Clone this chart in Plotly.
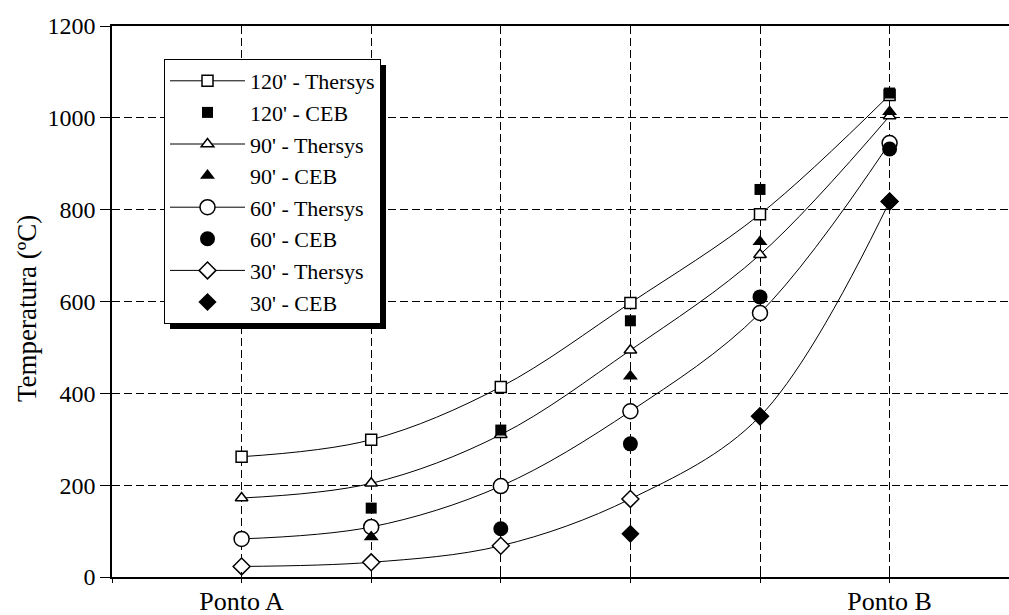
import plotly.graph_objects as go

# Temperature along the section, from Ponto A to Ponto B
positions = [1, 2, 3, 4, 5, 6]
tick_positions = [0, 1, 2, 3, 4, 5, 6]
tick_labels = ["", "Ponto A", "", "", "", "", "Ponto B"]

thersys_120 = [262, 299, 414, 597, 790, 1050]
thersys_90 = [172, 204, 310, 494, 702, 1004]
thersys_60 = [83, 109, 198, 361, 575, 945]
thersys_30 = [23, 32, 68, 170, 350, 818]

ceb_120 = [None, 150, 320, 558, 844, 1054]
ceb_90 = [None, 87, None, 437, 730, 1013]
ceb_60 = [None, None, 105, 290, 610, 932]
ceb_30 = [None, None, None, 94, 350, 818]

FONT = "Liberation Serif"

fig = go.Figure()

thersys = [
    ("120' - Thersys", thersys_120, "square", 11, 1),
    ("90' - Thersys", thersys_90, "triangle-up", 11, 3),
    ("60' - Thersys", thersys_60, "circle", 15, 5),
    ("30' - Thersys", thersys_30, "diamond", 13, 7),
]
ceb = [
    ("120' - CEB", ceb_120, "square", 11, 2),
    ("90' - CEB", ceb_90, "triangle-up", 13, 4),
    ("60' - CEB", ceb_60, "circle", 15, 6),
    ("30' - CEB", ceb_30, "diamond", 14, 8),
]

for name, vals, sym, size, rank in thersys:
    fig.add_trace(go.Scatter(
        x=positions, y=vals, name=name, mode="lines+markers",
        line=dict(color="black", width=1, shape="spline", smoothing=1.0),
        marker=dict(symbol=sym, size=size, color="white",
                    line=dict(color="black", width=1.5)),
        legendrank=rank,
    ))

for name, vals, sym, size, rank in ceb:
    fig.add_trace(go.Scatter(
        x=positions, y=vals, name=name, mode="markers",
        marker=dict(symbol=sym, size=size, color="black",
                    line=dict(color="black", width=0)),
        legendrank=rank,
    ))

# Plot-area geometry (pixels) used for legend / title placement
W, H = 1009, 615
ML, MR, MT, MB = 112, 0, 26, 38
pw, ph = W - ML - MR, H - MT - MB


def px_x(v):
    return (v - ML) / pw


def px_y(v):
    return (H - MB - v) / ph


# Drop shadow behind the legend box
fig.add_shape(type="rect", xref="paper", yref="paper",
              x0=px_x(170), x1=px_x(386), y0=px_y(329), y1=px_y(65),
              fillcolor="black", line=dict(width=0), layer="above")

# Rotated y-axis title
fig.add_annotation(text="Temperatura (ºC)", xref="paper", yref="paper",
                   x=px_x(27), y=px_y(309), xanchor="center",
                   yanchor="middle", textangle=-90, showarrow=False,
                   font=dict(family=FONT, size=27, color="black"))

axis_common = dict(
    showline=True, linecolor="black", linewidth=1.5,
    gridcolor="black", gridwidth=1, griddash="8px,4px",
    tickcolor="black", zeroline=False, automargin=False,
)

fig.update_layout(
    width=W, height=H,
    margin=dict(l=ML, r=MR, t=MT, b=MB),
    paper_bgcolor="white", plot_bgcolor="white",
    font=dict(family=FONT, size=24, color="black"),
    showlegend=True,
    legend=dict(
        x=px_x(164), y=px_y(59), xanchor="left", yanchor="top",
        bgcolor="white", bordercolor="black", borderwidth=1,
        font=dict(family=FONT, size=22, color="black"),
        itemwidth=75, tracegroupgap=0, itemsizing="trace",
    ),
    # labelled axis carries the upper half of the crossing tick marks
    xaxis=dict(
        **axis_common,
        tickfont=dict(family=FONT, size=26, color="black"),
        range=[0, pw / 129.6], tickmode="array",
        tickvals=tick_positions, ticktext=tick_labels,
        ticks="inside", ticklen=5, showgrid=True, mirror=True,
    ),
    # overlay axis carries the lower half
    xaxis2=dict(
        overlaying="x", matches="x", anchor="y", side="bottom",
        tickmode="array", tickvals=tick_positions, ticks="outside",
        ticklen=5, tickcolor="black", showticklabels=False,
        showgrid=False, showline=False, zeroline=False,
    ),
    yaxis=dict(
        **axis_common,
        tickfont=dict(family=FONT, size=24, color="black"),
        range=[0, 1200], tickmode="linear", tick0=0, dtick=200,
        ticks="outside", ticklen=10, showgrid=True,
    ),
)

# Invisible trace so the lower tick axis is drawn
fig.add_trace(go.Scatter(x=[positions[0]], y=[None], xaxis="x2",
                         showlegend=False, hoverinfo="skip"))

fig.write_html("out.html")
